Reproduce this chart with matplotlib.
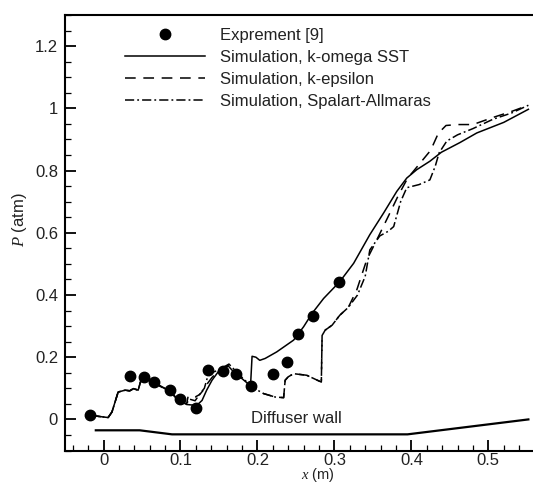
import matplotlib
matplotlib.use("Agg")
import matplotlib.pyplot as plt
import matplotlib.ticker as ticker
from matplotlib.lines import Line2D

plt.rcParams["font.family"] = ["Liberation Sans", "DejaVu Sans"]
plt.rcParams["mathtext.fontset"] = "custom"
plt.rcParams["mathtext.it"] = "Liberation Serif:italic"
plt.rcParams["mathtext.rm"] = "Liberation Serif"

# ── Data ──────────────────────────────────────────────────────────────────────
exp_x = [-0.018, 0.035, 0.052, 0.066, 0.087, 0.100, 0.120, 0.136, 0.155,
         0.172, 0.191, 0.220, 0.238, 0.253, 0.272, 0.306]
exp_p = [0.013, 0.139, 0.137, 0.120, 0.096, 0.067, 0.038, 0.160, 0.156,
         0.145, 0.107, 0.145, 0.185, 0.274, 0.333, 0.443]

sst_x = [-0.017, 0.006, 0.011, 0.015, 0.019, 0.028, 0.034, 0.039, 0.045, 0.048,
         0.052, 0.065, 0.076, 0.087, 0.097, 0.108, 0.121, 0.128, 0.134, 0.141,
         0.149, 0.156, 0.162, 0.169, 0.180, 0.191, 0.193, 0.198, 0.203, 0.210,
         0.225, 0.247, 0.260, 0.271, 0.286, 0.307, 0.325, 0.346, 0.364, 0.381,
         0.394, 0.407, 0.424, 0.439, 0.463, 0.485, 0.520, 0.552]
sst_p = [0.013, 0.006, 0.024, 0.056, 0.088, 0.094, 0.092, 0.099, 0.094, 0.120,
         0.137, 0.120, 0.105, 0.090, 0.063, 0.048, 0.045, 0.061, 0.094, 0.126,
         0.153, 0.165, 0.172, 0.153, 0.131, 0.108, 0.203, 0.200, 0.190, 0.196,
         0.217, 0.255, 0.298, 0.341, 0.389, 0.443, 0.502, 0.594, 0.664, 0.733,
         0.776, 0.803, 0.830, 0.859, 0.890, 0.921, 0.955, 0.997]

ke_x = [-0.017, 0.006, 0.011, 0.015, 0.019, 0.028, 0.034, 0.039, 0.045, 0.048,
        0.052, 0.065, 0.076, 0.087, 0.097, 0.108, 0.110, 0.119, 0.125, 0.130,
        0.134, 0.141, 0.149, 0.156, 0.162, 0.169, 0.180, 0.193, 0.208, 0.223,
        0.234, 0.236, 0.240, 0.247, 0.264, 0.283, 0.284, 0.288, 0.297, 0.307,
        0.318, 0.329, 0.342, 0.355, 0.370, 0.383, 0.395, 0.410, 0.425, 0.435,
        0.445, 0.460, 0.480, 0.505, 0.530, 0.552]
ke_p = [0.013, 0.006, 0.024, 0.056, 0.088, 0.094, 0.092, 0.099, 0.094, 0.120,
        0.135, 0.118, 0.103, 0.088, 0.061, 0.050, 0.075, 0.072, 0.080, 0.095,
        0.112, 0.135, 0.155, 0.165, 0.174, 0.155, 0.130, 0.104, 0.083, 0.072,
        0.070, 0.126, 0.137, 0.147, 0.142, 0.120, 0.270, 0.287, 0.303, 0.335,
        0.360, 0.416, 0.513, 0.577, 0.653, 0.720, 0.775, 0.820, 0.865, 0.920,
        0.945, 0.948, 0.948, 0.970, 0.990, 1.010]

sa_x = [-0.017, 0.006, 0.011, 0.015, 0.019, 0.028, 0.034, 0.039, 0.045, 0.048,
        0.052, 0.065, 0.076, 0.087, 0.097, 0.108, 0.112, 0.119, 0.126, 0.131,
        0.135, 0.140, 0.149, 0.156, 0.163, 0.170, 0.180, 0.193, 0.208, 0.223,
        0.234, 0.236, 0.240, 0.247, 0.264, 0.283, 0.284, 0.288, 0.297, 0.307,
        0.318, 0.330, 0.340, 0.346, 0.359, 0.370, 0.377, 0.386, 0.394, 0.410,
        0.424, 0.431, 0.436, 0.446, 0.460, 0.480, 0.506, 0.530, 0.552]
sa_p = [0.013, 0.006, 0.024, 0.056, 0.088, 0.094, 0.092, 0.099, 0.094, 0.120,
        0.135, 0.120, 0.104, 0.090, 0.063, 0.052, 0.065, 0.060, 0.085, 0.100,
        0.135, 0.150, 0.158, 0.168, 0.178, 0.160, 0.135, 0.104, 0.083, 0.072,
        0.070, 0.126, 0.137, 0.147, 0.142, 0.120, 0.270, 0.287, 0.303, 0.335,
        0.360, 0.400, 0.460, 0.545, 0.590, 0.605, 0.620, 0.700, 0.745, 0.755,
        0.770, 0.814, 0.857, 0.895, 0.915, 0.935, 0.965, 0.985, 1.010]

wall_x = [-0.010, 0.047, 0.089, 0.395, 0.552]
wall_y = [-0.035, -0.035, -0.048, -0.048, 0.000]

# ── Figure ────────────────────────────────────────────────────────────────────
fig = plt.figure(figsize=(5.33, 4.86), dpi=100)
ax = fig.add_axes([0.122, 0.073, 0.878, 0.896])

LW = 1.1
DASH = (0, (7, 5))
DASHDOT = (0, (6, 2, 1.2, 2))

ax.plot(wall_x, wall_y, color="black", lw=1.6)
ax.plot(sst_x, sst_p, color="black", lw=LW, linestyle="-")
ax.plot(ke_x, ke_p, color="black", lw=LW, linestyle=DASH)
ax.plot(sa_x, sa_p, color="black", lw=LW, linestyle=DASHDOT)
ax.plot(exp_x, exp_p, "o", color="black", markersize=7.5, linestyle="none")

ax.text(0.25, 0.003, "Diffuser wall", fontsize=12, ha="center", va="center",
        color="#222222")

ax.set_xlim(-0.05, 0.558)
ax.set_ylim(-0.1, 1.3)

ax.xaxis.set_major_locator(ticker.MultipleLocator(0.1))
ax.xaxis.set_minor_locator(ticker.MultipleLocator(0.02))
ax.yaxis.set_major_locator(ticker.MultipleLocator(0.2))
ax.yaxis.set_minor_locator(ticker.MultipleLocator(0.05))
ax.xaxis.set_major_formatter(ticker.FuncFormatter(lambda v, _: f"{v:g}" if abs(v) > 1e-9 else "0"))
ax.yaxis.set_major_formatter(ticker.FuncFormatter(lambda v, _: f"{v:g}" if abs(v) > 1e-9 else "0"))

ax.tick_params(which="both", direction="in", top=False, right=False,
               labelsize=12, labelcolor="#222222", pad=5)
ax.tick_params(axis="x", which="major", pad=2)
ax.tick_params(which="major", length=8, width=1.3)
ax.tick_params(which="minor", length=4.5, width=0.9)

for side in ["left", "bottom", "top"]:
    ax.spines[side].set_linewidth(1.5)
ax.spines["right"].set_visible(False)

ax.set_xlabel(r"$x$ (m)", fontsize=10.5, color="#222222", va="bottom")
ax.set_ylabel(r"$P$ (atm)", fontsize=12, color="#222222")
ax.xaxis.set_label_coords(0.54, -0.078)
ax.yaxis.set_label_coords(-0.078, 0.53)

handles = [
    Line2D([], [], marker="o", color="black", linestyle="none", markersize=7.5),
    Line2D([], [], color="black", lw=LW, linestyle="-"),
    Line2D([], [], color="black", lw=LW, linestyle=DASH),
    Line2D([], [], color="black", lw=LW, linestyle=DASHDOT),
]
labels = ["Exprement [9]", "Simulation, k-omega SST",
          "Simulation, k-epsilon", "Simulation, Spalart-Allmaras"]
leg = ax.legend(handles, labels, loc="upper left", bbox_to_anchor=(0.128, 0.971),
                frameon=False, fontsize=12, handlelength=4.8, handletextpad=0.9,
                labelspacing=0.42, borderpad=0, borderaxespad=0)
for t in leg.get_texts():
    t.set_color("#222222")

fig.savefig("out.png", dpi=100)
